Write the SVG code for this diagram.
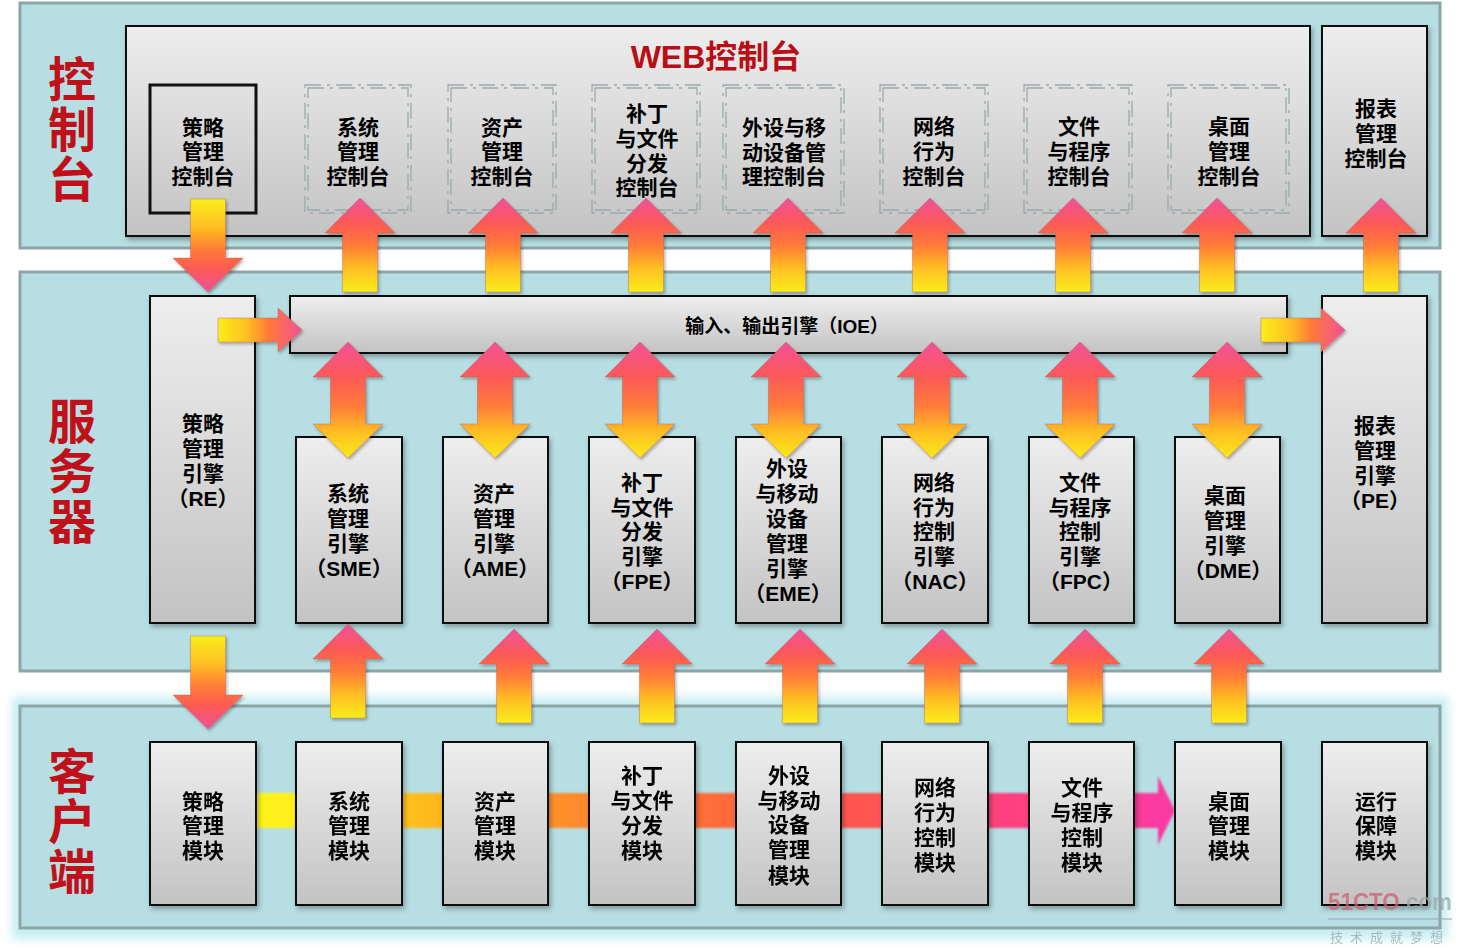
<svg xmlns="http://www.w3.org/2000/svg" width="1460" height="950" viewBox="0 0 1460 950">
<defs>
<linearGradient id="gBox" x1="0" y1="0" x2="0" y2="1">
<stop offset="0" stop-color="#eeeeee"/><stop offset="1" stop-color="#c3c3c3"/>
</linearGradient>
<linearGradient id="gUp" x1="0" y1="1" x2="0" y2="0">
<stop offset="0" stop-color="#f8ee1c"/><stop offset="0.25" stop-color="#ffbf22"/><stop offset="0.5" stop-color="#ff7a38"/><stop offset="0.72" stop-color="#fb5a55"/><stop offset="1" stop-color="#f2509c"/>
</linearGradient>
<linearGradient id="gDown" x1="0" y1="0" x2="0" y2="1">
<stop offset="0" stop-color="#f8ee1c"/><stop offset="0.3" stop-color="#ffbf22"/><stop offset="0.55" stop-color="#ff7a38"/><stop offset="0.75" stop-color="#fb5a55"/><stop offset="1" stop-color="#f2509c"/>
</linearGradient>
<linearGradient id="gDbl" x1="0" y1="0" x2="0" y2="1">
<stop offset="0" stop-color="#f4509a"/><stop offset="0.3" stop-color="#fb5a58"/><stop offset="0.55" stop-color="#ff7a38"/><stop offset="0.78" stop-color="#ffbf22"/><stop offset="1" stop-color="#f8ea1a"/>
</linearGradient>
<linearGradient id="gRight" x1="0" y1="0" x2="1" y2="0">
<stop offset="0" stop-color="#f8ee1c"/><stop offset="0.35" stop-color="#ffbf22"/><stop offset="0.6" stop-color="#ff7a38"/><stop offset="1" stop-color="#f2509c"/>
</linearGradient>
<linearGradient id="gBar" x1="0" y1="0" x2="1" y2="0">
<stop offset="0.03" stop-color="#fff21c"/><stop offset="0.19" stop-color="#ffbb1e"/><stop offset="0.34" stop-color="#ff8e2c"/><stop offset="0.5" stop-color="#ff6c3a"/><stop offset="0.66" stop-color="#ff5650"/><stop offset="0.82" stop-color="#ff4080"/><stop offset="1" stop-color="#fb3aa4"/>
</linearGradient>
<filter id="shadow" x="-20%" y="-20%" width="140%" height="140%">
<feDropShadow dx="2" dy="3" stdDeviation="2.5" flood-color="#000" flood-opacity="0.3"/>
</filter>
<filter id="ashadow" x="-30%" y="-30%" width="160%" height="160%">
<feDropShadow dx="1.5" dy="2" stdDeviation="1.5" flood-color="#000" flood-opacity="0.3"/>
</filter>
<filter id="glow" x="-5%" y="-10%" width="110%" height="120%">
<feGaussianBlur stdDeviation="5"/>
</filter>
<filter id="soft" x="-5%" y="-20%" width="110%" height="140%">
<feGaussianBlur stdDeviation="0.8"/>
</filter>
<path id="upA" d="M0,0 L35,35 L17.5,35 L17.5,94 L-17.5,94 L-17.5,35 L-35,35 Z" fill="url(#gUp)" stroke="#c0504a" stroke-opacity="0.35" stroke-width="1"/>
<path id="downA" d="M-17.5,0 L17.5,0 L17.5,59 L35,59 L0,93 L-35,59 L-17.5,59 Z" fill="url(#gDown)" stroke="#c0504a" stroke-opacity="0.35" stroke-width="1"/>
<path id="dblA" d="M0,0 L35,35 L17.5,35 L17.5,82 L35,82 L0,116 L-35,82 L-17.5,82 L-17.5,35 L-35,35 Z" fill="url(#gDbl)" stroke="#c0504a" stroke-opacity="0.35" stroke-width="1"/>
<path id="rightA" d="M0,-12 L60,-12 L60,-22 L84,0 L60,22 L60,12 L0,12 Z" fill="url(#gRight)" stroke="#c0504a" stroke-opacity="0.35" stroke-width="1"/>
</defs>
<style>
.band{fill:#b7dee2;stroke:#8ea5a8;stroke-width:3}
.box{fill:url(#gBox);stroke:#111;stroke-width:2;filter:url(#shadow)}
.dash{fill:none;stroke:#98abad;stroke-width:1.3;stroke-dasharray:16 6 3 6}
.t{font-family:"Liberation Sans","Noto Sans CJK SC",sans-serif;font-weight:bold;font-size:21px;fill:#000;text-anchor:middle;dominant-baseline:central}
.lbl{font-family:"Noto Sans CJK SC",sans-serif;font-weight:bold;font-size:48px;fill:#c0111b;text-anchor:middle;writing-mode:vertical-rl;letter-spacing:2px}
</style>
<rect width="1460" height="950" fill="#ffffff"/>

<g id="bands">
<rect x="12" y="697" width="1436" height="242" fill="#c6eef2" filter="url(#glow)"/>
<rect class="band" x="20" y="3" width="1420" height="245"/>
<rect class="band" x="20" y="272" width="1420" height="399"/>
<rect class="band" x="20" y="706" width="1420" height="222"/>
<text class="lbl" x="72" y="130">控制台</text>
<text class="lbl" x="72" y="472">服务器</text>
<text class="lbl" x="72" y="822">客户端</text>
</g>

<g id="web-console">
<rect class="box" x="126" y="26" width="1184" height="210"/>
<text x="716" y="57" font-family="Liberation Sans,Noto Sans CJK SC,sans-serif" font-weight="bold" font-size="32" fill="#b80f16" text-anchor="middle" dominant-baseline="central">WEB控制台</text>
</g>
<g id="policy-console">
<rect x="150" y="85" width="106" height="128" fill="none" stroke="#111" stroke-width="3"/>
<text class="t" x="203" y="127">策略</text><text class="t" x="203" y="151">管理</text><text class="t" x="203" y="176">控制台</text>
</g>
<g id="system-console">
<rect class="dash" x="305" y="85" width="106" height="128"/><rect class="dash" x="308" y="88" width="100" height="122"/>
<text class="t" x="358" y="127">系统</text><text class="t" x="358" y="151">管理</text><text class="t" x="358" y="176">控制台</text>
</g>
<g id="asset-console">
<rect class="dash" x="448" y="85" width="108" height="128"/><rect class="dash" x="451" y="88" width="102" height="122"/>
<text class="t" x="502" y="127">资产</text><text class="t" x="502" y="151">管理</text><text class="t" x="502" y="176">控制台</text>
</g>
<g id="patch-console">
<rect class="dash" x="592" y="85" width="108" height="128"/><rect class="dash" x="595" y="88" width="102" height="122"/>
<text class="t" x="647" y="113">补丁</text><text class="t" x="647" y="138">与文件</text><text class="t" x="647" y="163">分发</text><text class="t" x="647" y="187">控制台</text>
</g>
<g id="device-console">
<rect class="dash" x="723" y="85" width="121" height="128"/><rect class="dash" x="726" y="88" width="115" height="122"/>
<text class="t" x="784" y="127">外设与移</text><text class="t" x="784" y="152">动设备管</text><text class="t" x="784" y="176">理控制台</text>
</g>
<g id="network-console">
<rect class="dash" x="880" y="85" width="108" height="128"/><rect class="dash" x="883" y="88" width="102" height="122"/>
<text class="t" x="934" y="126">网络</text><text class="t" x="934" y="151">行为</text><text class="t" x="934" y="176">控制台</text>
</g>
<g id="file-console">
<rect class="dash" x="1024" y="85" width="108" height="128"/><rect class="dash" x="1027" y="88" width="102" height="122"/>
<text class="t" x="1079" y="126">文件</text><text class="t" x="1079" y="151">与程序</text><text class="t" x="1079" y="176">控制台</text>
</g>
<g id="desktop-console">
<rect class="dash" x="1168" y="85" width="121" height="128"/><rect class="dash" x="1171" y="88" width="115" height="122"/>
<text class="t" x="1229" y="126">桌面</text><text class="t" x="1229" y="151">管理</text><text class="t" x="1229" y="176">控制台</text>
</g>
<g id="report-console">
<rect class="box" x="1322" y="26" width="105" height="210"/>
<text class="t" x="1376" y="108">报表</text><text class="t" x="1376" y="133">管理</text><text class="t" x="1376" y="158">控制台</text>
</g>

<g id="RE">
<rect class="box" x="150" y="296" width="105" height="327"/>
<text class="t" x="203" y="423">策略</text><text class="t" x="203" y="448">管理</text><text class="t" x="203" y="473">引擎</text><text class="t" x="203" y="498">（RE）</text>
</g>
<g id="IOE">
<rect class="box" x="290" y="296" width="997" height="57"/>
<text class="t" x="787" y="326" style="font-size:19px">输入、输出引擎（IOE）</text>
</g>
<g id="PE">
<rect class="box" x="1322" y="296" width="105" height="327"/>
<text class="t" x="1375" y="425">报表</text><text class="t" x="1375" y="450">管理</text><text class="t" x="1375" y="475">引擎</text><text class="t" x="1375" y="500">（PE）</text>
</g>
<g id="SME">
<rect class="box" x="296" y="437" width="106" height="186"/>
<text class="t" x="348" y="493">系统</text><text class="t" x="348" y="518">管理</text><text class="t" x="348" y="543">引擎</text><text class="t" x="349" y="568">（SME）</text>
</g>
<g id="AME">
<rect class="box" x="443" y="437" width="105" height="186"/>
<text class="t" x="494" y="493">资产</text><text class="t" x="494" y="518">管理</text><text class="t" x="494" y="543">引擎</text><text class="t" x="495" y="568">（AME）</text>
</g>
<g id="FPE">
<rect class="box" x="589" y="437" width="106" height="186"/>
<text class="t" x="642" y="482">补丁</text><text class="t" x="642" y="507">与文件</text><text class="t" x="642" y="531">分发</text><text class="t" x="642" y="556">引擎</text><text class="t" x="642" y="581">（FPE）</text>
</g>
<g id="EME">
<rect class="box" x="736" y="437" width="105" height="186"/>
<text class="t" x="787" y="468">外设</text><text class="t" x="787" y="493">与移动</text><text class="t" x="787" y="518">设备</text><text class="t" x="787" y="543">管理</text><text class="t" x="787" y="568">引擎</text><text class="t" x="788" y="593">（EME）</text>
</g>
<g id="NAC">
<rect class="box" x="882" y="437" width="106" height="186"/>
<text class="t" x="934" y="482">网络</text><text class="t" x="934" y="507">行为</text><text class="t" x="934" y="531">控制</text><text class="t" x="934" y="556">引擎</text><text class="t" x="935" y="581">（NAC）</text>
</g>
<g id="FPC">
<rect class="box" x="1029" y="437" width="105" height="186"/>
<text class="t" x="1080" y="482">文件</text><text class="t" x="1080" y="507">与程序</text><text class="t" x="1080" y="531">控制</text><text class="t" x="1080" y="556">引擎</text><text class="t" x="1081" y="581">（FPC）</text>
</g>
<g id="DME">
<rect class="box" x="1175" y="437" width="105" height="186"/>
<text class="t" x="1225" y="495">桌面</text><text class="t" x="1225" y="520">管理</text><text class="t" x="1225" y="545">引擎</text><text class="t" x="1228" y="570">（DME）</text>
</g>

<g id="connectors">
<path d="M250,793 L1158,793 L1158,776 L1175,810.5 L1158,845 L1158,828 L250,828 Z" fill="url(#gBar)" filter="url(#soft)"/>
<g filter="url(#ashadow)">
<use href="#upA" x="360" y="198"/>
<use href="#upA" x="503" y="198"/>
<use href="#upA" x="646" y="198"/>
<use href="#upA" x="788" y="198"/>
<use href="#upA" x="930" y="198"/>
<use href="#upA" x="1073" y="198"/>
<use href="#upA" x="1217" y="198"/>
<use href="#upA" x="1381" y="198"/>
<use href="#downA" x="208" y="199"/>
<use href="#rightA" x="218" y="330"/>
<use href="#rightA" x="1261" y="330"/>
<use href="#dblA" x="348" y="342"/>
<use href="#dblA" x="495" y="342"/>
<use href="#dblA" x="640" y="342"/>
<use href="#dblA" x="786" y="342"/>
<use href="#dblA" x="932" y="342"/>
<use href="#dblA" x="1080" y="342"/>
<use href="#dblA" x="1227" y="342"/>
<use href="#downA" x="208" y="636"/>
<use href="#upA" x="348" y="624"/>
<use href="#upA" x="514" y="629"/>
<use href="#upA" x="657" y="629"/>
<use href="#upA" x="800" y="629"/>
<use href="#upA" x="942" y="629"/>
<use href="#upA" x="1085" y="629"/>
<use href="#upA" x="1229" y="629"/>
</g>
</g>

<g id="policy-module">
<rect class="box" x="150" y="742" width="106" height="163"/>
<text class="t" x="203" y="801">策略</text><text class="t" x="203" y="825">管理</text><text class="t" x="203" y="850">模块</text>
</g>
<g id="system-module">
<rect class="box" x="296" y="742" width="106" height="163"/>
<text class="t" x="349" y="801">系统</text><text class="t" x="349" y="825">管理</text><text class="t" x="349" y="850">模块</text>
</g>
<g id="asset-module">
<rect class="box" x="443" y="742" width="105" height="163"/>
<text class="t" x="495" y="801">资产</text><text class="t" x="495" y="825">管理</text><text class="t" x="495" y="850">模块</text>
</g>
<g id="patch-module">
<rect class="box" x="589" y="742" width="106" height="163"/>
<text class="t" x="642" y="775">补丁</text><text class="t" x="642" y="800">与文件</text><text class="t" x="642" y="825">分发</text><text class="t" x="642" y="850">模块</text>
</g>
<g id="device-module">
<rect class="box" x="736" y="742" width="105" height="163"/>
<text class="t" x="789" y="775">外设</text><text class="t" x="789" y="800">与移动</text><text class="t" x="789" y="824">设备</text><text class="t" x="789" y="849">管理</text><text class="t" x="789" y="875">模块</text>
</g>
<g id="network-module">
<rect class="box" x="882" y="742" width="106" height="163"/>
<text class="t" x="935" y="787">网络</text><text class="t" x="935" y="812">行为</text><text class="t" x="935" y="837">控制</text><text class="t" x="935" y="862">模块</text>
</g>
<g id="file-module">
<rect class="box" x="1029" y="742" width="105" height="163"/>
<text class="t" x="1082" y="787">文件</text><text class="t" x="1082" y="812">与程序</text><text class="t" x="1082" y="837">控制</text><text class="t" x="1082" y="862">模块</text>
</g>
<g id="desktop-module">
<rect class="box" x="1175" y="742" width="106" height="163"/>
<text class="t" x="1229" y="801">桌面</text><text class="t" x="1229" y="825">管理</text><text class="t" x="1229" y="850">模块</text>
</g>
<g id="ops-module">
<rect class="box" x="1322" y="742" width="105" height="163"/>
<text class="t" x="1376" y="801">运行</text><text class="t" x="1376" y="825">保障</text><text class="t" x="1376" y="850">模块</text>
</g>

<g id="watermark" opacity="0.75">
<text x="1328" y="910" font-family="Liberation Sans,sans-serif" font-weight="bold" font-size="24" textLength="124" lengthAdjust="spacingAndGlyphs"><tspan fill="#cf6070">51CTO</tspan><tspan fill="#9aa8aa">.com</tspan></text>
<line x1="1328" y1="919" x2="1452" y2="919" stroke="#a0aeb0" stroke-width="1.5"/>
<text x="1390" y="936" font-family="Noto Sans CJK SC,sans-serif" font-size="13" fill="#9aa6a8" text-anchor="middle" dominant-baseline="central" letter-spacing="7">技术成就梦想</text>
</g>
</svg>
